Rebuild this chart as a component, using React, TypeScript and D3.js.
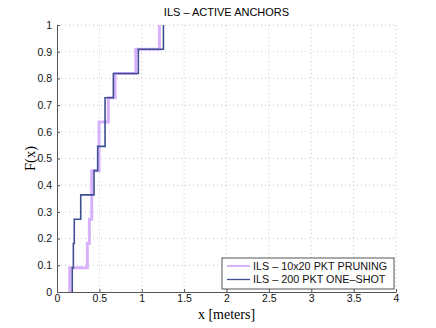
import { useEffect, useRef } from 'react'
import * as d3 from 'd3'

// sample values (meters)
const pruning = [0.15, 0.358, 0.382, 0.41, 0.41, 0.496, 0.496, 0.606, 0.685, 0.93, 1.208]
const oneShot = [0.18, 0.193, 0.204, 0.28, 0.437, 0.48, 0.567, 0.567, 0.665, 0.96, 1.256]
const seriesNames = ['ILS \u2013 10x20 PKT PRUNING', 'ILS \u2013 200 PKT ONE\u2013SHOT']
const xTicks = [0, 0.5, 1, 1.5, 2, 2.5, 3, 3.5, 4]
const yTicks = [0, 0.1, 0.2, 0.3, 0.4, 0.5, 0.6, 0.7, 0.8, 0.9, 1]

const W = 436
const H = 328
const margin = { top: 25, right: 40, bottom: 36, left: 57 }
const sans = 'Helvetica, Arial, "Liberation Sans", sans-serif'
const serif = '"Times New Roman", "Liberation Serif", serif'

export default function App() {
  const svgRef = useRef<SVGSVGElement>(null)

  useEffect(() => {
    const svg = d3.select(svgRef.current)
    svg.selectAll('*').remove()

    const w = W - margin.left - margin.right
    const h = H - margin.top - margin.bottom
    const g = svg.append('g').attr('transform', `translate(${margin.left},${margin.top})`)

    const x = d3.scaleLinear().domain([0, 4]).range([0, w])
    const y = d3.scaleLinear().domain([0, 1]).range([h, 0])

    // grid
    g.append('g')
      .selectAll('line')
      .data(xTicks.slice(1))
      .join('line')
      .attr('x1', (d) => x(d))
      .attr('x2', (d) => x(d))
      .attr('y1', 0)
      .attr('y2', h)
      .attr('stroke', '#c8c8c8')
      .attr('stroke-dasharray', '1,3')
    g.append('g')
      .selectAll('line')
      .data(yTicks.slice(1))
      .join('line')
      .attr('x1', 0)
      .attr('x2', w)
      .attr('y1', (d) => y(d))
      .attr('y2', (d) => y(d))
      .attr('stroke', '#c8c8c8')
      .attr('stroke-dasharray', '1,3')

    const xAxis = g
      .append('g')
      .attr('transform', `translate(0,${h})`)
      .call(d3.axisBottom(x).tickValues(xTicks).tickFormat(d3.format('')).tickSizeInner(-3).tickSizeOuter(0).tickPadding(3))
    const yAxis = g
      .append('g')
      .call(d3.axisLeft(y).tickValues(yTicks).tickFormat(d3.format('')).tickSizeInner(-3).tickSizeOuter(0).tickPadding(5))
    for (const ax of [xAxis, yAxis]) {
      ax.select('.domain').attr('stroke', '#555')
      ax.selectAll('line').attr('stroke', '#555')
      ax.selectAll('text').style('font-family', sans).style('font-size', '10.5px').attr('fill', '#111')
    }

    const cdf = (vals: number[]) => {
      const s = [...vals].sort((a, b) => a - b)
      const n = s.length
      const pts: [number, number][] = [[s[0], 0]]
      s.forEach((v, i) => {
        pts.push([v, i / n])
        pts.push([v, (i + 1) / n])
      })
      return pts
    }
    const line = d3
      .line<[number, number]>()
      .x((d) => x(d[0]))
      .y((d) => y(d[1]))
      .curve(d3.curveStepBefore)

    const series = [
      { vals: pruning, color: '#d7b2fb', width: 3 },
      { vals: oneShot, color: '#3f4f92', width: 1.6 },
    ]
    series.forEach((s) => {
      g.append('path')
        .datum(cdf(s.vals))
        .attr('d', line)
        .attr('fill', 'none')
        .attr('stroke', s.color)
        .attr('stroke-width', s.width)
    })

    // title and labels
    svg.append('text')
      .attr('x', margin.left + w / 2)
      .attr('y', 16)
      .attr('text-anchor', 'middle')
      .style('font-family', sans)
      .style('font-size', '11px')
      .text('ILS \u2013 ACTIVE ANCHORS')
    svg.append('text')
      .attr('x', margin.left + w / 2)
      .attr('y', 319)
      .attr('text-anchor', 'middle')
      .style('font-family', serif)
      .style('font-size', '14px')
      .text('x [meters]')
    svg.append('text')
      .attr('transform', `translate(35,${margin.top + h / 2}) rotate(-90)`)
      .attr('text-anchor', 'middle')
      .style('font-family', serif)
      .style('font-size', '14.5px')
      .text('F(x)')

    // legend
    const lg = svg.append('g').attr('transform', 'translate(222,258)')
    lg.append('rect')
      .attr('width', 172)
      .attr('height', 31)
      .attr('fill', '#fff')
      .attr('stroke', '#555')
      .attr('stroke-width', 1)
    series.forEach((s, i) => {
      const yy = 8 + i * 13.5
      lg.append('line')
        .attr('x1', 5)
        .attr('x2', 28)
        .attr('y1', yy)
        .attr('y2', yy)
        .attr('stroke', s.color)
        .attr('stroke-width', i === 0 ? 2 : 1.3)
      lg.append('text')
        .attr('x', 31)
        .attr('y', yy + 3.8)
        .style('font-family', sans)
        .style('font-size', '10.8px')
        .attr('fill', '#111')
        .text(seriesNames[i])
    })
  }, [])

  return (
    <svg
      ref={svgRef}
      width={W}
      height={H}
      viewBox={`0 0 ${W} ${H}`}
      style={{ position: 'absolute', left: 0, top: 0, background: '#fff' }}
    />
  )
}
